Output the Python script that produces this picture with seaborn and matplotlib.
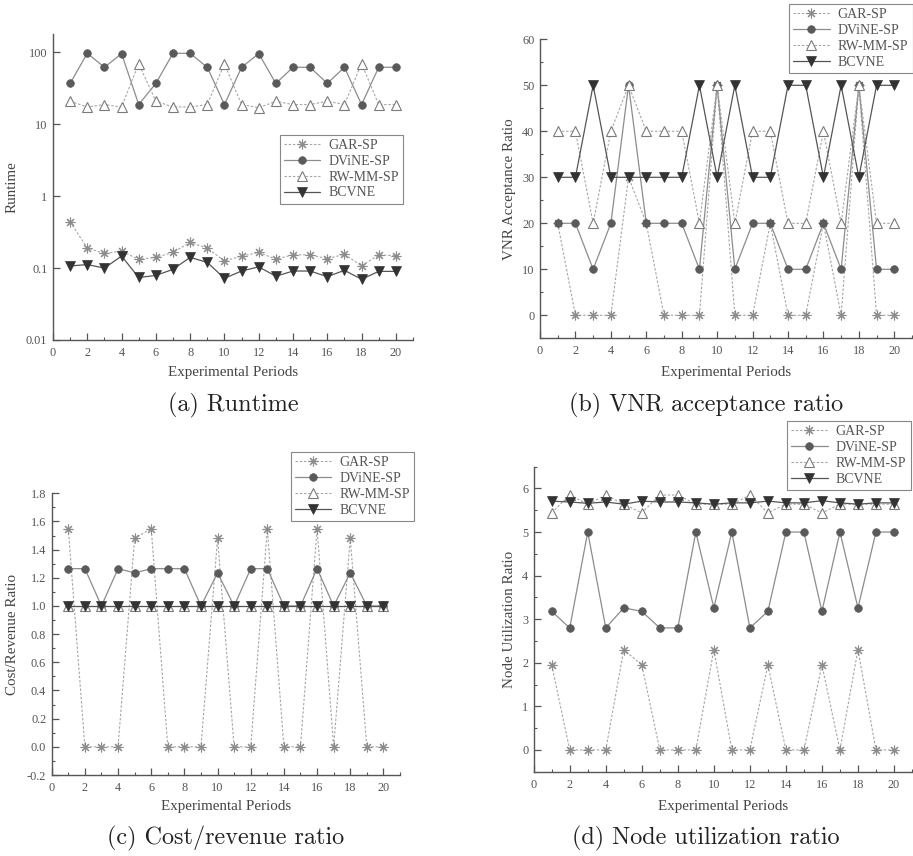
import matplotlib
matplotlib.use('Agg')
import matplotlib.pyplot as plt
import seaborn as sns
from matplotlib.ticker import MultipleLocator, FixedLocator, FixedFormatter, NullLocator, FormatStrFormatter

# ---------------- data ----------------
periods = list(range(1, 21))
series_names = ['GAR-SP', 'DViNE-SP', 'RW-MM-SP', 'BCVNE']

runtime_gar = [0.44, 0.19, 0.16, 0.172, 0.132, 0.141, 0.165, 0.227, 0.19, 0.125,
               0.147, 0.165, 0.133, 0.153, 0.153, 0.135, 0.156, 0.107, 0.152, 0.149]
runtime_dvine = [37, 97, 62, 96, 18.8, 37, 97, 97, 62, 18.8,
                 62, 96, 37, 62, 62, 37, 62, 18.8, 62, 62]
runtime_rwmm = [20.9, 17.4, 18.8, 17.4, 69.7, 20.9, 17.4, 17.4, 18.8, 69.7,
                18.8, 17.0, 20.9, 18.8, 18.8, 20.9, 18.8, 69.7, 18.8, 18.8]
runtime_bcvne = [0.107, 0.112, 0.1, 0.147, 0.074, 0.079, 0.096, 0.141, 0.12, 0.072,
                 0.091, 0.104, 0.077, 0.091, 0.091, 0.076, 0.093, 0.07, 0.09, 0.09]

acc_gar = [20, 0, 0, 0, 30, 20, 0, 0, 0, 50, 0, 0, 20, 0, 0, 20, 0, 50, 0, 0]
acc_dvine = [20, 20, 10, 20, 50, 20, 20, 20, 10, 50, 10, 20, 20, 10, 10, 20, 10, 50, 10, 10]
acc_rwmm = [40, 40, 20, 40, 50, 40, 40, 40, 20, 50, 20, 40, 40, 20, 20, 40, 20, 50, 20, 20]
acc_bcvne = [30, 30, 50, 30, 30, 30, 30, 30, 50, 30, 50, 30, 30, 50, 50, 30, 50, 30, 50, 50]

cost_gar = [1.55, 0, 0, 0, 1.48, 1.55, 0, 0, 0, 1.48, 0, 0, 1.55, 0, 0, 1.55, 0, 1.48, 0, 0]
cost_dvine = [1.265, 1.265, 1.0, 1.265, 1.235, 1.265, 1.265, 1.265, 1.0, 1.235,
              1.0, 1.265, 1.265, 1.0, 1.0, 1.265, 1.0, 1.235, 1.0, 1.0]
cost_rwmm = [1.0, 1.0, 1.0, 1.0, 1.0, 1.0, 1.0, 1.0, 1.0, 1.0,
             1.0, 1.0, 1.0, 1.0, 1.0, 1.0, 1.0, 1.0, 1.0, 1.0]
cost_bcvne = [1.0, 1.0, 1.0, 1.0, 1.0, 1.0, 1.0, 1.0, 1.0, 1.0,
              1.0, 1.0, 1.0, 1.0, 1.0, 1.0, 1.0, 1.0, 1.0, 1.0]

node_gar = [1.95, 0, 0, 0, 2.3, 1.95, 0, 0, 0, 2.3, 0, 0, 1.95, 0, 0, 1.95, 0, 2.3, 0, 0]
node_dvine = [3.18, 2.8, 5.0, 2.8, 3.26, 3.18, 2.8, 2.8, 5.0, 3.26,
              5.0, 2.8, 3.18, 5.0, 5.0, 3.18, 5.0, 3.26, 5.0, 5.0]
node_rwmm = [5.44, 5.85, 5.64, 5.85, 5.64, 5.44, 5.85, 5.85, 5.64, 5.64,
             5.64, 5.85, 5.44, 5.64, 5.64, 5.44, 5.64, 5.64, 5.64, 5.64]
node_bcvne = [5.71, 5.69, 5.66, 5.69, 5.64, 5.71, 5.69, 5.69, 5.67, 5.64,
              5.67, 5.67, 5.71, 5.67, 5.67, 5.72, 5.67, 5.64, 5.67, 5.67]

x_label = 'Experimental Periods'
y_labels = ['Runtime', 'VNR Acceptance Ratio', 'Cost/Revenue Ratio', 'Node Utilization Ratio']
titles = ['(a) Runtime', '(b) VNR acceptance ratio', '(c) Cost/revenue ratio',
          '(d) Node utilization ratio']
runtime_ticks = [0.01, 0.1, 1, 10, 100]
runtime_ticklabels = ['0.01', '0.1', '1', '10', '100']

# ---------------- style ----------------
sns.set_style('ticks')
plt.rcParams['font.family'] = ['Liberation Serif', 'DejaVu Serif']

W, H = 913, 856
fig = plt.figure(figsize=(W / 100, H / 100), dpi=100)


def ax_at(l, t, r, b):
    return fig.add_axes([l / W, 1 - b / H, (r - l) / W, (b - t) / H])


dash = (0, (2.2, 1.6))
styles = {
    'GAR-SP': dict(color='#a6a6a6', linestyle=dash, lw=0.8, marker=(8, 2, 0), markersize=7,
                   markerfacecolor='none', markeredgecolor='#8c8c8c', markeredgewidth=0.8),
    'DViNE-SP': dict(color='#8c8c8c', linestyle='-', lw=0.9, marker='o', markersize=5.5,
                     markerfacecolor='#5a5a5a', markeredgecolor='#5a5a5a', markeredgewidth=0.5),
    'RW-MM-SP': dict(color='#a6a6a6', linestyle=dash, lw=0.8, marker='^', markersize=6.5,
                     markerfacecolor='white', markeredgecolor='#7a7a7a', markeredgewidth=0.8),
    'BCVNE': dict(color='#555555', linestyle='-', lw=0.9, marker='v', markersize=6.5,
                  markerfacecolor='#333333', markeredgecolor='#333333', markeredgewidth=0.5),
}

panels = [
    dict(rect=(53, 34, 413, 340), data=[runtime_gar, runtime_dvine, runtime_rwmm, runtime_bcvne],
         leg=(403, 135), ylab_x=19, xlab_y=366, title_xy=(233, 405)),
    dict(rect=(540, 39.3, 912, 338.3), data=[acc_gar, acc_dvine, acc_rwmm, acc_bcvne],
         leg=(912.5, 4), ylab_x=516, xlab_y=366, title_xy=(706, 405)),
    dict(rect=(51.7, 493.3, 400, 775), data=[cost_gar, cost_dvine, cost_rwmm, cost_bcvne],
         leg=(414, 452), ylab_x=19, xlab_y=800, title_xy=(226, 838)),
    dict(rect=(533.7, 466.7, 912, 771.7), data=[node_gar, node_dvine, node_rwmm, node_bcvne],
         leg=(910.5, 421), ylab_x=516, xlab_y=800, title_xy=(706, 838)),
]

text_col = '#555555'
for i, p in enumerate(panels):
    l, t, r, b = p['rect']
    ax = ax_at(l, t, r, b)
    for name, vals in zip(series_names, p['data']):
        sns.lineplot(x=periods, y=vals, ax=ax, label=name, errorbar=None, **styles[name])
    sns.despine(ax=ax)
    for s in ['left', 'bottom']:
        ax.spines[s].set_color('#555555')
        ax.spines[s].set_linewidth(1.0)

    ax.set_xlim(0, 21)
    ax.xaxis.set_major_locator(MultipleLocator(2))
    ax.xaxis.set_minor_locator(MultipleLocator(1))

    if i == 0:
        ax.set_yscale('log')
        ax.set_ylim(0.01, 180)
        ax.yaxis.set_major_locator(FixedLocator(runtime_ticks))
        ax.yaxis.set_major_formatter(FixedFormatter(runtime_ticklabels))
        ax.yaxis.set_minor_locator(NullLocator())
    elif i == 1:
        ax.set_ylim(-5, 60)
        ax.yaxis.set_major_locator(FixedLocator([0, 10, 20, 30, 40, 50, 60]))
        ax.yaxis.set_minor_locator(MultipleLocator(5))
    elif i == 2:
        ax.set_ylim(-0.2, 1.8)
        ax.yaxis.set_major_locator(MultipleLocator(0.2))
        ax.yaxis.set_minor_locator(MultipleLocator(0.1))
        ax.yaxis.set_major_formatter(FormatStrFormatter('%.1f'))
    else:
        ax.set_ylim(-0.5, 6.5)
        ax.yaxis.set_major_locator(FixedLocator([0, 1, 2, 3, 4, 5, 6]))
        ax.yaxis.set_minor_locator(MultipleLocator(0.5))

    ax.tick_params(which='major', direction='in', length=5, width=0.9, color='#555555',
                   labelcolor=text_col, labelsize=8.8, pad=5)
    ax.tick_params(which='minor', direction='in', length=2.5, width=0.8, color='#555555')
    ax.tick_params(axis='y', which='major', pad=4)

    ax.set_xlabel(x_label, fontsize=10.8, color='#444444')
    ax.set_ylabel(y_labels[i], fontsize=10.8, color='#444444')
    ax.xaxis.set_label_coords(0.5, -(p['xlab_y'] - b) / (b - t))
    ax.yaxis.set_label_coords((p['ylab_x'] - l) / (r - l), 0.5)

    lx, ly = p['leg']
    leg = ax.legend(loc='upper right', bbox_to_anchor=(lx / W, 1 - ly / H),
                    bbox_transform=fig.transFigure, fontsize=10, frameon=True,
                    fancybox=False, framealpha=1, edgecolor='#888888', borderpad=0.3,
                    labelspacing=0.2, handlelength=2.6, handletextpad=0.6, borderaxespad=0)
    leg.get_frame().set_linewidth(0.8)
    for txt in leg.get_texts():
        txt.set_color(text_col)

    tx, ty = p['title_xy']
    fig.text(tx / W, 1 - ty / H, titles[i], ha='center', va='center', fontsize=17.4,
             family='cmr10', color='#222222')

fig.savefig('out.png', dpi=100)
